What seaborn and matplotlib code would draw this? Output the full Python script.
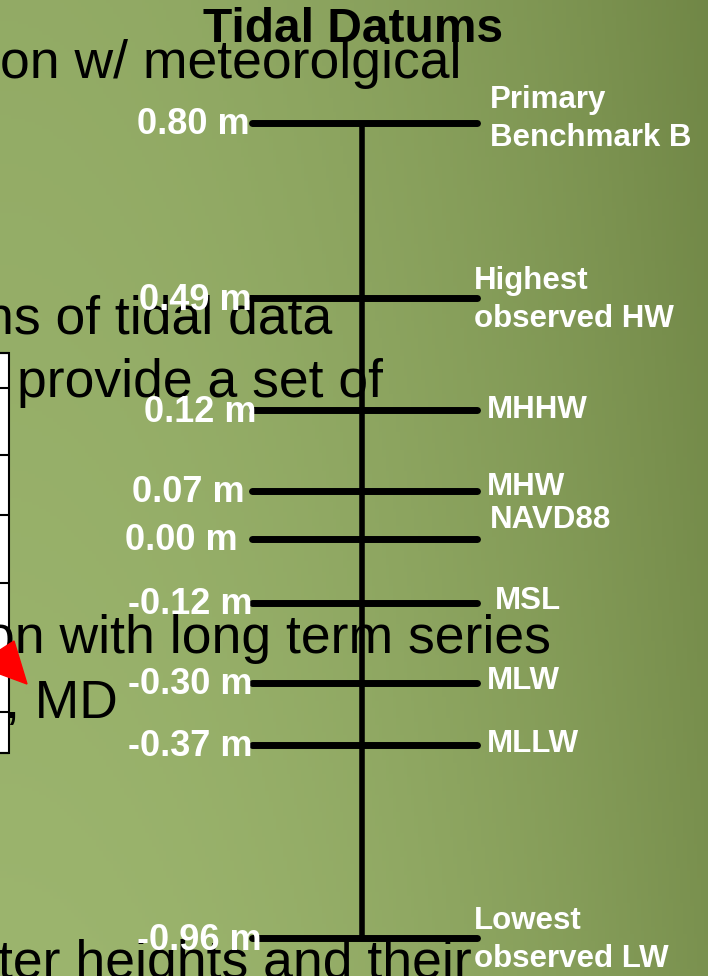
import numpy as np
import pandas as pd
import seaborn as sns
import matplotlib.pyplot as plt
from matplotlib.patches import Polygon, Rectangle

# =========================
# Data
# =========================
datum_names = ["Primary\nBenchmark B", "Highest\nobserved HW", "MHHW", "MHW",
               "NAVD88", "MSL", "MLW", "MLLW", "Lowest\nobserved LW"]
datum_values = [0.80, 0.49, 0.12, 0.07, 0.00, -0.12, -0.30, -0.37, -0.96]
# schematic level of each rung as drawn on the slide (not to scale)
diagram_row = [123, 298, 410, 491, 539, 603, 683, 745, 938]

# slide text lying behind the diagram
slide_lines = ["on w/ meteorolgical", "ns of tidal data", "provide a set of",
               "on with long term series", ", MD", "ter heights and their"]
slide_x = [0, -16, 17, -15, 5, -2]
slide_baseline = [78, 333, 397, 653, 718, 978]

table_rows = [353, 388, 455, 515, 583, 672, 712, 753]

# =========================
# Plot
# =========================
sns.set_style("white")
plt.rcParams["font.family"] = ["Liberation Sans", "DejaVu Sans"]

fig = plt.figure(figsize=(7.08, 9.76), dpi=100)
ax = fig.add_axes([0, 0, 1, 1])
ax.set_xlim(0, 708)
ax.set_ylim(976, 0)
ax.axis("off")

# green background, lighter to the lower left, darker to the right
gx = np.linspace(0, 1, 200)
gy = np.linspace(0, 1, 280)
X, Y = np.meshgrid(gx, gy)
light = np.array([156, 181, 110]) / 255
dark = np.array([108, 130, 66]) / 255
w = np.clip(0.2 + 0.7 * X ** 2.0 - 0.2 * Y, 0, 1)[..., None]
bg = light * (1 - w) + dark * w
ax.imshow(bg, extent=(0, 708, 976, 0), aspect="auto", zorder=0)

# slide text
for txt, x0, yb in zip(slide_lines, slide_x, slide_baseline):
    ax.text(x0, yb, txt, fontsize=38.5, color="black", ha="left",
            va="baseline", zorder=2)

# bits of a table at the left edge
ax.add_patch(Rectangle((-5, table_rows[0]), 14, table_rows[-1] - table_rows[0],
                       facecolor="white", edgecolor="black", lw=1.5, zorder=1))
ax.hlines(table_rows, -5, 9, color="black", lw=1.5, zorder=1)
ax.add_patch(Polygon([(0, 650), (14, 641), (27, 684), (0, 674)],
                     closed=True, color="#ff0000", zorder=3))

# rungs of the datum ladder
rungs = pd.DataFrame({
    "datum": np.repeat(datum_names, 2),
    "row": np.repeat(diagram_row, 2),
    "x": [252, 477] * len(datum_names),
})
sns.lineplot(data=rungs, x="x", y="row", units="datum", estimator=None,
             sort=False, color="black", lw=5, ax=ax, zorder=4)
ax.vlines(362, diagram_row[0], diagram_row[-1], color="black", lw=4, zorder=4)

# labels
left_x = [250, 252, 256, 245, 238, 252, 252, 252, 262]
right_shift = [-4, 2, 0, -4, -19, -2, -2, -1, 2]
right_x = [490, 474, 487, 487, 490, 495, 487, 487, 474]
for name, val, row, lx, dy, rx in zip(datum_names, datum_values, diagram_row,
                                      left_x, right_shift, right_x):
    ax.text(lx, row + 2, f"{val:.2f} m", fontsize=26, fontweight="bold",
            color="white", ha="right", va="center", zorder=5)
    ax.text(rx, row + dy, name, fontsize=22.5, fontweight="bold",
            color="white", ha="left", va="center", linespacing=1.33, zorder=5)

ax.text(353, 42, "Tidal Datums", fontsize=34.5, fontweight="bold",
        color="black", ha="center", va="baseline", zorder=5)

ax.set_xlabel("")
ax.set_ylabel("")
plt.savefig("out.png", dpi=100)
